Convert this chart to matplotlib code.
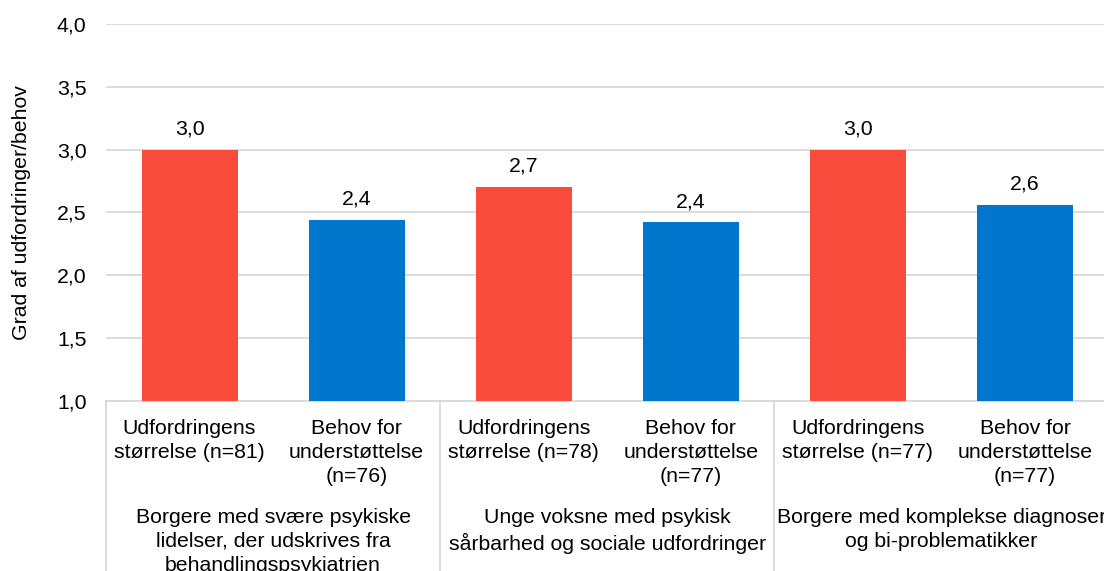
import matplotlib.pyplot as plt
from matplotlib.ticker import FuncFormatter

plt.rcParams['font.family'] = ['Liberation Sans', 'DejaVu Sans']

# data
categories = ["Udfordringens\nstørrelse (n=81)", "Behov for\nunderstøttelse\n(n=76)",
              "Udfordringens\nstørrelse (n=78)", "Behov for\nunderstøttelse\n(n=77)",
              "Udfordringens\nstørrelse (n=77)", "Behov for\nunderstøttelse\n(n=77)"]
values = [3.00, 2.44, 2.70, 2.42, 3.00, 2.56]
groups = ["Borgere med svære psykiske\nlidelser, der udskrives fra\nbehandlingspsykiatrien",
          "Unge voksne med psykisk\nsårbarhed og sociale udfordringer",
          "Borgere med komplekse diagnoser\nog bi-problematikker"]
colors = ['#F94C3C', '#0077CC'] * 3

W, H = 1104, 571
fig = plt.figure(figsize=(W / 100, H / 100), dpi=100)
ax = fig.add_axes([106 / W, (H - 400.7) / H, (1108.6 - 106) / W, (400.7 - 24) / H])

x = list(range(len(values)))
bars = ax.bar(x, values, width=0.574, color=colors, zorder=3)

ax.set_ylim(1.0, 4.0)
ax.set_xlim(-0.5, 5.5)
ax.set_yticks([1.0, 1.5, 2.0, 2.5, 3.0, 3.5, 4.0])
ax.yaxis.set_major_formatter(FuncFormatter(lambda v, p: f"{v:.1f}".replace('.', ',')))
ax.tick_params(axis='y', length=0, pad=14, labelsize=15.3)
ax.set_xticks([])
ax.grid(axis='y', color='#D9D9D9', linewidth=1.3, zorder=0)
for s in ['top', 'right', 'left']:
    ax.spines[s].set_visible(False)
ax.spines['bottom'].set_color('#D9D9D9')
ax.spines['bottom'].set_linewidth(1.3)

ax.set_ylabel("Grad af udfordringer/behov", fontsize=15.3)
ax.yaxis.set_label_coords(-0.084, 0.5)
ax.yaxis.label.set_verticalalignment('center')

# value labels
for xi, v in zip(x, values):
    ax.annotate(f"{v:.1f}".replace('.', ','), (xi, v), xytext=(0, 15),
                textcoords='offset points', ha='center', va='center', fontsize=15.3)

# category labels
trans = ax.get_xaxis_transform()
for xi, c in zip(x, categories):
    ax.text(xi, -(419 - 400.7) / 376.7, c, transform=trans, ha='center', va='top',
            fontsize=15.3, linespacing=1.33)

# group labels
for gi, g in enumerate(groups):
    ax.text(2 * gi + 0.5, -(508 - 400.7) / 376.7, g, transform=trans, ha='center',
            va='top', fontsize=15.3, linespacing=1.33)

# group separators
for sx in [-0.5, 1.5, 3.5, 5.5]:
    ax.plot([sx, sx], [0, -0.6], transform=trans, color='#D9D9D9', linewidth=1.3,
            clip_on=False)

fig.savefig("out.png", dpi=100)
